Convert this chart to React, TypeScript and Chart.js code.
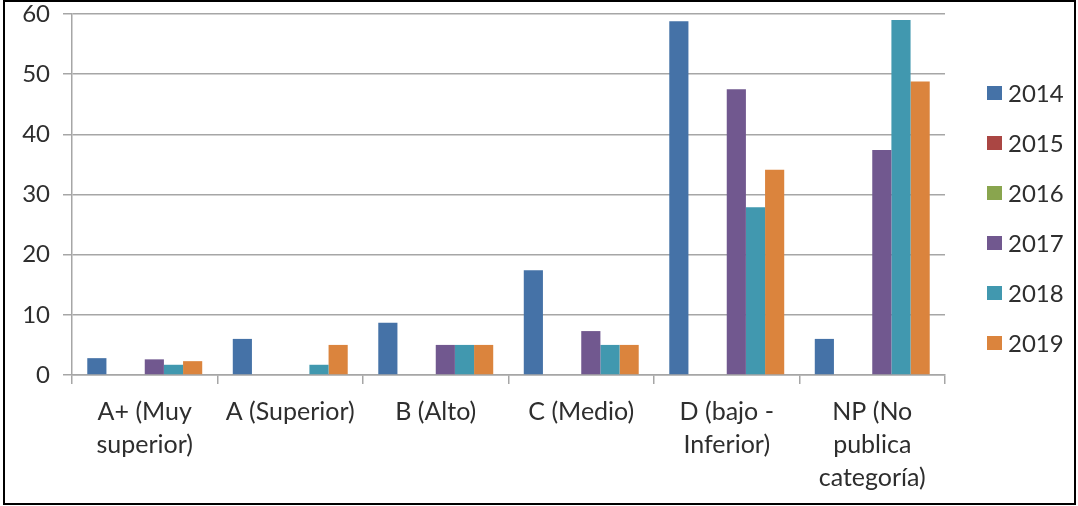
import React, { useEffect, useRef } from "react";
import { Chart, registerables } from "chart.js";

Chart.register(...registerables);

const categories: string[][] = [
  ["A+ (Muy", "superior)"],
  ["A (Superior)"],
  ["B (Alto)"],
  ["C (Medio)"],
  ["D (bajo -", "Inferior)"],
  ["NP (No", "publica", "categoría)"],
];
const years = ["2014", "2015", "2016", "2017", "2018", "2019"];
const values2014 = [2.8, 6.0, 8.7, 17.4, 58.8, 6.0];
const values2015 = [0, 0, 0, 0, 0, 0];
const values2016 = [0, 0, 0, 0, 0, 0];
const values2017 = [2.6, 0, 5, 7.3, 47.5, 37.4];
const values2018 = [1.7, 1.7, 5, 5, 27.9, 59.0];
const values2019 = [2.3, 5, 5, 5, 34.1, 48.8];
const seriesColors = ["#4572A7", "#AA4643", "#89A54E", "#71588F", "#4198AF", "#DB843D"];
const yTicks = [0, 10, 20, 30, 40, 50, 60];

const FONT = "Lato, 'Open Sans', sans-serif";
const TEXT = "#2e2e2e";
const GRID = "#a6a6a6";

const legendPlugin = {
  id: "rightLegend",
  afterDraw(chart: any) {
    const ctx = chart.ctx;
    const ds = chart.data.datasets;
    ctx.save();
    ctx.font = `24px ${FONT}`;
    ctx.textBaseline = "middle";
    ctx.textAlign = "left";
    const startY = 93;
    const step = 50;
    ds.forEach((d: any, i: number) => {
      const cy = startY + i * step;
      ctx.fillStyle = d.backgroundColor;
      ctx.fillRect(987, cy - 7, 15, 14);
      ctx.fillStyle = TEXT;
      ctx.fillText(d.label, 1008, cy + 1);
    });
    ctx.restore();
  },
};

export default function App() {
  const ref = useRef<HTMLCanvasElement | null>(null);
  useEffect(() => {
    document.body.style.margin = "0";
    const seriesValues = [values2014, values2015, values2016, values2017, values2018, values2019];
    const chart = new Chart(ref.current as HTMLCanvasElement, {
      type: "bar",
      data: {
        labels: categories,
        datasets: years.map((y, i) => ({
          label: y,
          data: seriesValues[i],
          backgroundColor: seriesColors[i],
          borderWidth: 0,
          categoryPercentage: 0.79,
          barPercentage: 1.0,
        })),
      },
      options: {
        animation: false,
        responsive: false,
        devicePixelRatio: 1,
        layout: { padding: { left: 0, right: 133, top: 14, bottom: 0 } },
        plugins: {
          legend: { display: false },
          tooltip: { enabled: false },
        },
        scales: {
          x: {
            grid: {
              display: true,
              drawOnChartArea: false,
              drawTicks: true,
              tickLength: 9,
              color: GRID,
              lineWidth: 1.5,
              offset: true,
            },
            border: { color: GRID, width: 1.5 },
            ticks: {
              color: TEXT,
              font: { family: FONT, size: 25, lineHeight: 1.32 },
              padding: 11,
              maxRotation: 0,
              autoSkip: false,
            },
            afterFit(scale: any) {
              scale.height = 131;
              scale.paddingLeft = 0;
              scale.paddingRight = 0;
            },
          },
          y: {
            min: 0,
            max: 60,
            afterBuildTicks(scale: any) {
              scale.ticks = yTicks.map((v) => ({ value: v }));
            },
            grid: {
              color: GRID,
              lineWidth: 1.5,
              drawTicks: true,
              tickLength: 9,
            },
            border: { color: GRID, width: 1.5 },
            ticks: {
              color: TEXT,
              font: { family: FONT, size: 24 },
              padding: 13,
            },
            afterFit(scale: any) {
              scale.width = 72;
              scale.paddingTop = 0;
              scale.paddingBottom = 0;
            },
          },
        },
      },
      plugins: [legendPlugin],
    });
    return () => chart.destroy();
  }, []);
  return (
    <div style={{ position: "relative", width: 1078, height: 506, background: "#fff" }}>
      <canvas ref={ref} width={1078} height={506} style={{ position: "absolute", left: 0, top: 0 }} />
      <div
        style={{
          position: "absolute",
          left: 3,
          top: 0,
          width: 1073,
          height: 505,
          boxSizing: "border-box",
          border: "2px solid #000",
          pointerEvents: "none",
        }}
      />
    </div>
  );
}
